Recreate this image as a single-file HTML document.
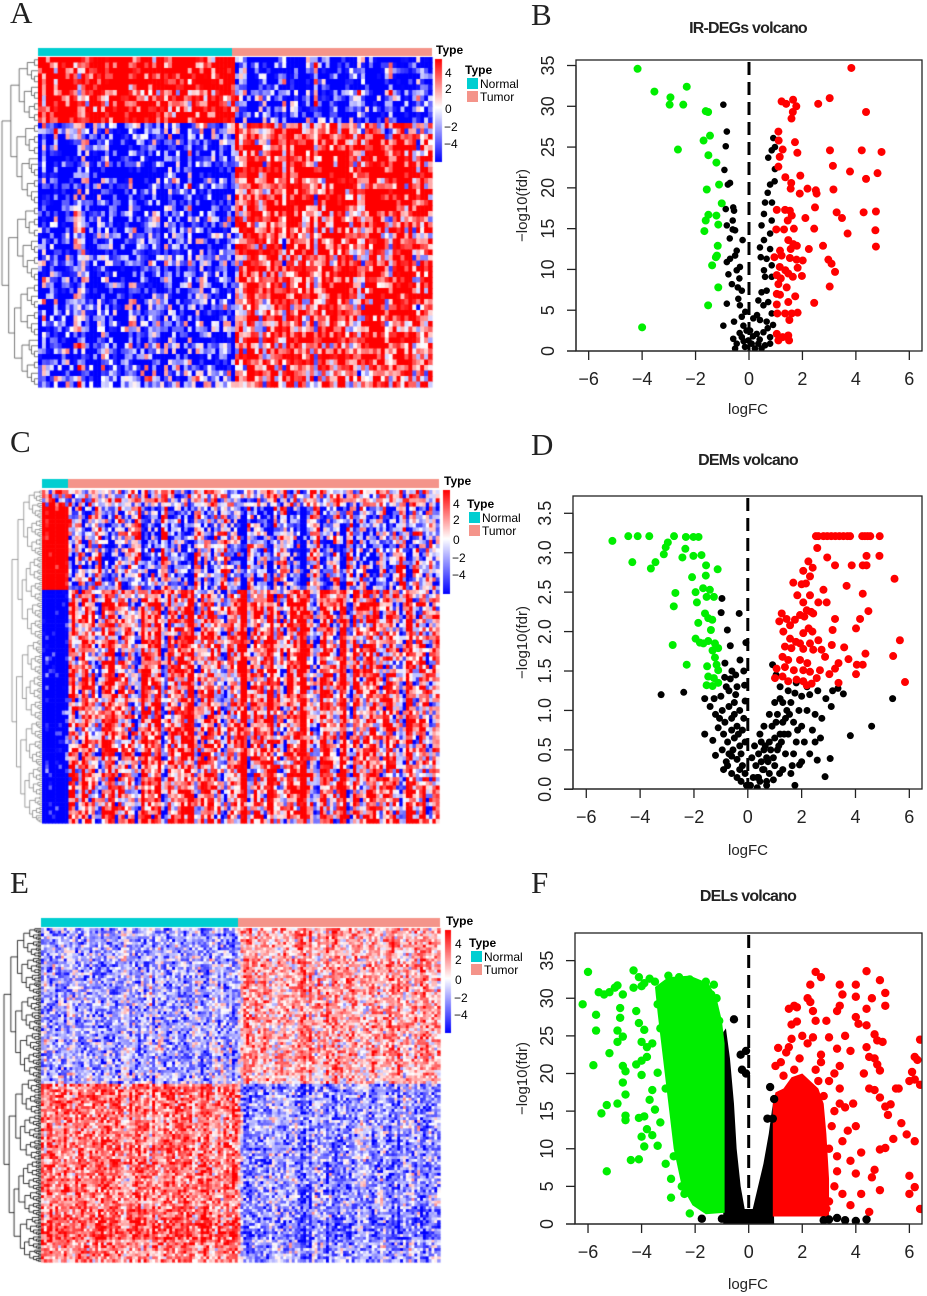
<!DOCTYPE html>
<html><head><meta charset="utf-8">
<style>
html,body{margin:0;padding:0;background:#fff;}
#root{position:relative;width:927px;height:1296px;overflow:hidden;font-family:"Liberation Sans",sans-serif;}
canvas{position:absolute;left:0;top:0;}
svg{position:absolute;left:0;top:0;}
</style></head>
<body>
<div id="root">
<canvas id="hm" width="927" height="1296"></canvas>
<svg id="sv" width="927" height="1296" xmlns="http://www.w3.org/2000/svg">
<g font-family="Liberation Serif, serif" font-size="31" fill="#222">
<text x="10" y="23">A</text>
<text x="531" y="25">B</text>
<text x="10" y="452">C</text>
<text x="531" y="455">D</text>
<text x="10" y="893">E</text>
<text x="531" y="893">F</text>
</g>
<g id="legends" font-family="Liberation Sans, sans-serif"></g>
<g id="volc"></g>
</svg>
</div>
<script>
// ---------- Volcano data (logFC, -log10 fdr) ----------
const bBlackX=[-0.96,-0.83,-0.87,-0.92,-0.71,-0.79,-0.59,-0.56,-0.87,-0.61,-0.83,-0.52,-0.61,-0.72,-0.24,-0.46,-0.52,-0.83,-0.71,-0.34,-0.46,-0.77,-0.36,-0.64,-0.42,-0.27,-0.40,-0.34,-0.83,-0.14,-0.27,-0.56,-0.96,-0.21,-0.09,-0.59,-0.46,-0.52,-0.27,-0.15,-0.35,-0.2,0.91,0.97,0.85,0.72,0.97,0.96,0.79,0.70,0.86,0.60,0.56,0.85,0.47,0.79,0.56,0.41,0.79,0.44,0.66,0.85,0.56,0.60,0.85,0.66,0.47,0.35,0.72,0.54,0.30,0.85,0.16,0.41,0.66,0.04,0.29,0.54,0.79,0.10,0.35,0.60,0.79,0.22,0.47,-0.02,0.15,0.4,0.7,0.9];
const bBlackY=[30.2,26.9,25.1,22.2,20.6,20.4,17.6,17.2,17.4,16.0,15.4,14.8,14.9,13.8,13.6,12.3,11.7,10.9,11.3,10.3,9.9,9.4,8.9,8.2,7.8,7.4,6.4,5.6,5.8,4.8,4.2,3.6,3.1,3.1,2.5,1.5,0.9,0.3,1.7,0.5,2.2,1.2,26.1,25.0,24.6,23.7,22.3,20.8,20.4,19.4,18.2,18.2,16.8,16.0,15.4,14.4,13.6,12.7,12.5,11.5,11.3,10.5,9.9,9.1,9.1,7.4,7.2,6.2,6.0,5.6,4.4,4.6,4.0,3.8,3.6,2.5,2.1,2.3,1.7,0.9,0.9,0.7,0.9,0.3,0.3,1.3,1.8,1.4,2.8,3.2];
const bGreenX=[-4.17,-3.54,-2.94,-2.97,-2.33,-2.46,-1.62,-1.53,-1.46,-1.70,-2.66,-1.52,-1.22,-1.12,-1.58,-1.02,-1.52,-1.22,-1.62,-1.15,-1.67,-1.17,-1.20,-1.24,-1.38,-1.15,-1.53,-4.0];
const bGreenY=[34.6,31.8,31.1,30.2,32.4,30.2,29.4,29.3,26.4,25.8,24.7,24.0,23.1,20.4,19.8,18.1,16.7,16.6,16.0,15.5,14.7,12.9,11.7,11.5,10.5,7.8,5.6,2.9];
const bRedX=[3.83,3.02,2.59,1.22,1.39,1.65,1.77,1.64,1.59,4.38,1.10,1.11,1.72,1.26,1.81,1.15,3.03,4.22,4.96,3.14,1.10,3.78,4.81,4.38,1.36,1.92,1.58,2.19,2.50,2.53,1.90,1.56,3.16,1.04,1.35,1.53,1.60,1.45,2.47,2.11,3.28,3.48,4.29,4.75,4.73,3.69,2.44,1.68,1.02,1.31,1.47,1.66,1.79,2.77,2.24,4.75,1.16,1.56,0.95,1.22,1.53,1.78,2.01,2.97,3.09,3.22,1.15,1.36,1.82,1.98,1.04,1.19,1.47,1.64,3.02,1.10,1.41,1.04,1.16,1.73,1.47,2.44,1.04,1.06,1.35,1.60,1.82,1.51,1.04,1.26,1.47,1.50,1.10];
const bRedY=[34.7,31.0,30.3,30.6,30.3,30.8,30.0,29.3,28.5,29.3,26.9,25.8,25.6,24.7,24.3,23.8,24.6,24.6,24.4,22.7,22.6,22.0,21.8,21.1,21.3,21.5,20.6,19.9,19.7,19.3,19.3,19.9,19.8,17.3,17.3,17.2,16.6,16.0,17.6,16.3,17.0,16.3,17.0,17.1,14.8,14.4,15.0,15.0,14.9,14.9,13.6,13.1,12.9,12.9,12.5,12.8,12.3,12.5,11.5,11.7,11.4,11.2,11.1,11.2,10.7,9.7,10.3,9.9,10.2,9.2,9.3,8.9,9.5,9.1,7.9,8.2,7.8,7.0,6.9,6.7,6.0,5.9,5.7,4.6,4.6,4.6,4.7,3.8,2.1,1.7,1.9,1.3,1.3];

const dBlackX=[-3.22,-2.38,-0.96,-0.99,-0.32,-0.76,-0.07,-0.65,-0.29,-0.59,-0.15,-0.86,-0.45,-0.80,-1.60,-1.25,-1.00,-0.70,-0.40,-0.12,-1.4,-1.2,-0.95,-0.7,-0.5,-0.3,-0.1,-1.6,-1.3,-1.1,-0.85,-0.6,-0.4,-0.2,-1.2,-0.95,-0.75,-0.5,-0.3,-0.1,-0.8,-0.6,-0.4,-0.2,-0.6,-0.4,-0.25,-0.1,-0.05,-0.3,-0.7,-0.9,-1.05,-0.5,0.92,1.05,1.2,1.5,1.75,2.0,2.3,2.6,2.9,3.15,3.55,5.38,1.0,1.3,1.6,1.9,2.2,2.5,2.75,3.1,0.8,1.1,1.4,1.7,2.0,2.4,2.7,0.6,0.9,1.2,1.5,1.8,2.1,2.5,0.5,0.8,1.1,1.4,1.7,2.0,0.4,0.7,1.0,1.3,0.3,0.55,0.8,0.2,0.45,0.7,0.1,0.35,3.81,4.6,2.58,3.06,2.87,1.92,1.75,1.18,0.95,0.6,1.6,2.3,1.0,1.3,0.4,0.15,1.8,2.2,3.35,-0.85,-0.65,-0.45,-0.35,-0.55,-0.75,-0.25,-0.15,-0.9,-0.6,0.25,0.5,0.65,0.85,1.05,1.25,1.45,0.35,0.6,0.75,0.95,1.15,1.35,1.55,1.2,1.65,1.85,0.7,0.45];
const dBlackY=[1.20,1.23,2.42,2.24,2.23,2.02,1.86,1.82,1.64,1.50,1.50,1.42,1.45,1.30,1.15,1.15,1.18,1.25,1.30,1.32,1.05,0.95,1.0,1.05,1.1,1.0,1.12,0.7,0.62,0.78,0.85,0.9,0.8,0.75,0.43,0.5,0.6,0.65,0.55,0.6,0.35,0.42,0.38,0.3,0.2,0.15,0.1,0.2,0.05,0.25,0.45,0.7,0.9,0.95,1.58,1.45,1.3,1.25,1.22,1.18,1.20,1.25,1.15,1.25,1.21,1.15,1.1,1.1,1.1,1.0,1.0,0.95,0.9,1.05,0.95,0.95,0.9,0.85,0.8,0.75,0.65,0.8,0.8,0.7,0.7,0.6,0.6,0.6,0.6,0.6,0.5,0.45,0.45,0.35,0.45,0.4,0.3,0.25,0.3,0.25,0.2,0.15,0.1,0.05,0.05,0.02,0.68,0.80,0.37,0.39,0.16,0.31,0.05,0.2,0.12,0.5,0.2,0.45,0.65,0.85,0.15,0.4,1.35,1.3,1.28,1.6,1.4,1.2,0.7,0.5,0.3,0.45,0.9,0.25,0.75,0.55,0.35,0.55,0.5,0.85,0.6,1.0,0.15,0.25,0.35,0.4,0.55,0.7,0.95,1.15,0.3,0.75,0.1,0.7];
const dGreenX=[-5.03,-4.44,-4.09,-3.66,-4.29,-3.60,-3.43,-3.12,-3.05,-2.97,-2.74,-2.30,-2.02,-1.83,-2.32,-2.43,-2.02,-1.72,-1.55,-1.12,-2.07,-1.56,-2.69,-2.75,-1.94,-1.66,-1.41,-1.53,-1.26,-1.89,-1.59,-1.47,-1.32,-1.84,-1.37,-2.79,-1.94,-1.78,-1.47,-1.22,-1.10,-1.31,-1.65,-2.27,-1.51,-1.16,-1.10,-1.47,-1.26,-1.53,-1.31,-1.10,-1.22];
const dGreenY=[3.15,3.21,3.21,3.21,2.88,2.80,2.88,2.98,3.07,3.13,3.21,3.20,3.20,3.20,3.05,2.94,2.96,2.97,2.84,2.79,2.69,2.71,2.49,2.32,2.50,2.55,2.53,2.44,2.44,2.37,2.23,2.17,2.15,2.11,2.02,1.83,1.91,1.86,1.88,1.85,1.79,1.76,1.85,1.58,1.56,1.58,1.51,1.43,1.41,1.32,1.31,1.35,1.67];
const dRedX=[2.53,2.62,2.81,2.95,3.1,3.25,3.4,3.55,3.7,3.8,4.25,4.35,4.45,4.55,4.9,2.58,2.95,3.24,3.86,4.27,4.41,4.41,4.89,5.45,3.67,4.27,4.48,4.17,4.02,5.65,5.40,5.84,4.37,4.05,4.27,4.02,3.74,3.58,3.37,3.24,3.03,3.37,3.24,3.15,3.12,2.87,2.81,2.93,2.25,2.41,2.06,2.31,1.69,2.16,2.0,1.84,2.31,2.06,2.62,2.19,2.35,2.43,1.94,2.1,1.26,1.17,1.44,1.75,1.57,2.26,2.4,1.32,2.06,2.62,1.57,1.79,1.94,1.38,1.62,2.31,2.06,2.43,2.74,1.29,1.50,1.94,2.21,1.07,1.38,1.71,2.06,2.31,2.68,1.01,1.29,1.50,1.81,2.06,2.37,2.56,2.19];
const dRedY=[3.21,3.21,3.21,3.21,3.21,3.21,3.21,3.21,3.21,3.21,3.21,3.21,3.21,3.21,3.21,3.06,2.94,2.84,2.84,2.84,2.84,2.96,2.96,2.67,2.58,2.48,2.26,2.16,2.04,1.89,1.69,1.36,1.72,1.58,1.58,1.46,1.65,1.80,1.60,1.53,1.46,1.35,2.16,2.02,1.83,1.68,2.53,2.37,2.89,2.81,2.77,2.70,2.62,2.61,2.60,2.46,2.46,2.37,2.37,2.27,2.25,2.23,2.21,2.19,2.23,2.13,2.16,2.15,2.08,2.04,2.0,2.00,1.98,1.89,1.91,1.87,1.85,1.81,1.79,1.85,1.78,1.77,1.77,1.68,1.64,1.64,1.60,1.53,1.55,1.51,1.51,1.49,1.51,1.41,1.43,1.37,1.39,1.37,1.34,1.41,1.32];

// F: dense cores as envelopes (data units) + scattered points
const fGreenCoreX=[-0.9,-0.9,-1.0,-1.2,-1.5,-2.2,-3.0,-3.5,-3.4,-3.2,-3.0,-2.8,-2.5,-2.1,-1.6];
const fGreenCoreY=[1.5,24,27,30,32,33,32.8,31.5,28,22,16,10,5,2.5,1.3];
const fBlackCoreX=[-0.95,-0.95,-0.85,-0.7,-0.55,-0.45,-0.3,-0.15,0.15,0.35,0.55,0.75,0.9,0.95];
const fBlackCoreY=[0,25.5,26,22,16,10,5,2,2,5,8,12,16,0];
const fRedCoreX=[0.9,0.9,1.0,1.3,1.6,2.0,2.3,2.6,2.8,2.9,3.0,3.0];
const fRedCoreY=[1,16,17.5,18,19.5,20,19,18,16,12,6,1];
const fBlackX=[-0.55,-0.3,-0.1,-0.1,-0.25,0.8,0.95,-1.75,-1.0,0.9,0.7,3.3,3.6,4.4,4.0,2.8,3.0];
const fBlackY=[27.2,22.5,23,20,20.5,18.2,16.6,0.7,0.7,14,14,0.8,0.5,0.6,0.4,0.5,0.6];
const fGreenX=[-6.2,-6.0,-5.7,-5.7,-5.8,-5.6,-5.4,-5.2,-5.5,-5.3,-5.3,-5.2,-5.0,-4.9,-4.7,-4.8,-4.8,-4.9,-4.7,-4.9,-4.7,-4.6,-4.7,-4.6,-4.9,-4.6,-4.6,-4.4,-4.1,-4.3,-4.1,-4.3,-4.0,-4.1,-4.2,-3.9,-4.0,-3.8,-4.0,-4.2,-3.8,-4.0,-4.1,-3.9,-4.0,-3.9,-3.8,-3.6,-3.7,-3.5,-3.6,-3.4,-3.3,-3.4,-3.6,-3.4,-3.5,-3.7,-3.9,-3.1,-2.9,-2.9,-2.2,-2.5,-2.0,-3.0,-2.6,-2.2,-1.6,-1.3,-1.4,-1.2,-1.3,-1.1,-3.3,-3.1,-2.8,-2.4];
const fGreenY=[29.2,33.5,27.8,25.7,21.1,30.8,30.5,22.7,14.7,15.8,7.0,30.8,31.4,31.7,30.5,28.7,27.4,25.7,24.9,24.2,21.0,20.3,18.8,17.2,16.0,14.4,13.8,8.5,8.6,33.7,32.8,31.4,31.6,26.7,28.3,25.8,24.2,23.5,21.7,21.2,22.2,19.8,14.1,14.3,11.6,10.3,12.6,17.8,16.5,15.2,11.8,10.4,13.5,20.1,24.0,29.2,32.2,32.6,32.0,8.0,6.0,3.5,1.4,5,3.5,33,32.8,32.5,32.2,31.8,30.5,30,28,27,26,18,9,4];
const fRedX=[2.5,2.7,2.3,2.3,2.2,1.7,1.5,1.8,2.5,2.9,3.4,3.5,3.4,3.3,4.0,4.0,4.4,4.4,4.6,4.9,5.1,5.1,4.0,4.1,4.4,4.7,4.8,5.0,4.4,4.5,4.7,4.8,4.3,4.9,4.5,4.7,4.9,5.1,5.3,5.2,5.5,5.6,5.7,5.4,5.1,4.9,5.9,6.2,6.0,6.1,6.2,6.2,6.3,6.4,6.4,6.0,6.0,6.2,6.4,4.9,4.6,4.7,4.5,4.2,4.0,3.8,3.5,3.7,4.0,3.6,3.9,3.4,3.4,3.3,3.8,3.6,3.0,3.2,3.0,2.5,2.8,3.2,3.0,3.3,3.0,3.5,3.8,4.2,2.7,2.2,1.9,1.6,1.4,1.1,1.0,1.3,1.7,2.0,2.4,1.6,1.8,2.4,2.7,2.6,3.1,3.3,3.2,2.9,3.4,1.2,1.5];
const fRedY=[33.5,32.8,31.8,29.5,30,29,28.6,26.9,27,27,31.8,30.5,29,28.3,31.8,30.2,33.6,28.6,30,32.4,30.7,29,27.5,26.6,26.4,25.2,24.4,24.2,23.5,22.2,22,21.2,20,20.4,18,17.8,16.8,15.6,15.9,14.5,18,18,13.4,11.3,10.1,9.9,11.9,11.0,19,20.2,19.2,22.2,21.8,24.5,18.5,6.4,4.0,4.9,2,4.5,6.2,7.2,1.6,4,6.7,8.4,11,12.4,13,15.5,16,18,21,23.3,23,25,24.8,20,19,20.5,17,15,10,7,3,4,2.5,9.5,22.5,24,22,24.6,22.8,23.4,21,19.7,20.5,25,24.8,26.5,28.8,28.3,21.5,19,13,9,5,2,16,21.5,23.5];

// ---------- Heatmap data (row/column profiles + texture) ----------
const tex1=[0.8,-0.6,0.3,-0.9,0.5,0.1,-0.4,0.9,-0.2,0.6,-0.8,0.2,-0.5,0.7,-0.1,0.4,-0.7,0.95,-0.3,0.0,0.6,-0.9,0.35,-0.45,0.75,-0.15,0.5,-0.65,0.25,-0.85,0.55];
const tex2=[-0.5,0.7,-0.2,0.9,-0.8,0.3,0.1,-0.6,0.5,-0.3,0.8,-0.9,0.2,0.6,-0.4,0.0,-0.7,0.4,0.9,-0.1,-0.55,0.65,-0.35,0.15,0.85,-0.75,0.45,-0.25,0.05];
const aCols=[1.2,0.9,1.4,1.0,0.7,1.3,1.1,0.8,1.5,1.0,0.9,1.2,1.3,0.6,1.1,1.0,1.4,0.8,1.2,1.0,-1.0,-1.3,-0.8,-1.1,-0.6,-1.2,-1.4,-0.9,-0.5,-1.2,-1.6,-0.7,-1.0,-1.3,-1.5,-0.8,-1.1,-1.4,-0.9,-1.2];
const aRows=[2.2,2.0,2.4,1.2,1.6,2.1,-0.8,-1.5,-1.8,-1.6,-2.6,-1.4,-1.9,-2.0,-1.2,-1.5,-1.3,-1.7,-1.1,-1.6,-1.4,-1.8,-1.2,-1.5,-1.0,-1.7,-1.3,-1.6,-1.2,-1.0];
const cCols=[1.4,1.4,1.4,1.4,-0.5,0.2,-0.8,-0.3,0.4,-0.6,-1.0,0.1,-0.4,-0.2,0.5,-0.7,-0.3,-0.9,0.3,-0.5,-0.1,-0.6,-1.1,0.2,-0.4,-0.8,-0.2,0.4,-0.5,-0.3,-1.0,0.1,-0.6,-0.4,-0.9,-0.2,0.3,-0.7,-0.5,-1.2,-0.3,0.2,-0.6,-0.4,-0.1,-0.8,0.3,-0.5,-0.2,-0.7,-0.4,0.1,-0.6,-0.3,0.4,-0.9,-0.2,-0.5,0.2,-0.4];
const cRows=[0.3,0.3,2.6,2.4,2.8,2.2,2.6,2.5,2.9,2.3,2.7,2.4,-2.2,-2.6,-2.4,-2.8,-2.1,-2.5,-2.7,-2.3,-2.6,-2.2,-2.5,-2.9,-2.4,-2.6,-2.2,-2.8,-2.5,-2.3,-2.6,-2.7,-2.4,-2.2,-2.6,-2.5,-2.8,-2.3,-2.6,-2.4];
const eCols=[1.0,0.8,1.2,0.9,1.1,0.7,1.3,1.0,0.9,1.2,0.8,1.1,1.0,1.3,0.9,0.8,1.2,1.0,0.9,1.1,-1.0,-1.2,-0.9,-1.1,-0.8,-1.0,-1.3,-0.9,-1.1,-1.0,-1.2,-0.8,-1.0,-1.1,-0.9,-1.2,-1.0,-0.9,-1.1,-1.0];
const eRows=[-1.0,-1.1,-0.9,-1.2,-1.0,-1.1,-0.9,-1.0,-1.2,-1.0,-0.9,-1.1,-1.0,-0.8,1.6,1.4,1.5,1.3,1.4,1.6,1.3,1.5,1.4,1.6,1.3,1.5,1.8,2.0,1.4,1.3];
</script>
<script>
const NS='http://www.w3.org/2000/svg';
const sv=document.getElementById('sv');
function mk(tag,attrs,parent){const e=document.createElementNS(NS,tag);for(const k in attrs)e.setAttribute(k,attrs[k]);(parent||sv).appendChild(e);return e;}

// ---------- heatmaps ----------
const ctx=document.getElementById('hm').getContext('2d');
function col(v,sat){let t=Math.max(-1,Math.min(1,v/sat));
 if(t>=0){const g=Math.round(255*(1-t));return 'rgb(255,'+g+','+g+')';}
 const g=Math.round(255*(1+t));return 'rgb('+g+','+g+',255)';}
function heat(rows,cols,L,T,R,B,nr,nc,sat,texAmp,colAmp){
 const cw=(R-L)/nc,rh=(B-T)/nr;
 for(let r=0;r<nr;r++){const rs=rows[Math.floor(r*rows.length/nr)];
  for(let c=0;c<nc;c++){const cs=cols[Math.floor(c*cols.length/nc)];
   const i1=(r*17+c*5+((r*c)%11)*3)%31, i2=(c*19+r*3+((r+c*c)%7)*4)%29;
   const colStreak=colAmp*tex1[(c*c*3+c*7)%31];
   const v=rs*cs+texAmp*(tex1[i1]+tex2[i2])+colStreak*Math.sign(rs);
   ctx.fillStyle=col(v,sat);
   ctx.fillRect(L+c*cw,T+r*rh,cw+0.6,rh+0.6);}}
}
function dendro(L,R,T,B,n,color){
 ctx.strokeStyle=color;ctx.lineWidth=0.8;
 const rh=(B-T)/n,W=R-L,ln=Math.log2(n);
 function rec(lo,hi){ if(hi-lo===1)return {x:R,y:T+(lo+0.5)*rh};
  const m=lo+Math.max(1,Math.floor((hi-lo)*((lo%3===0)?0.45:0.55)));
  const a=rec(lo,m),b=rec(m,hi);
  const x=R-W*Math.pow(Math.log2(hi-lo)/ln,1.3);
  ctx.beginPath();ctx.moveTo(a.x,a.y);ctx.lineTo(x,a.y);ctx.lineTo(x,b.y);ctx.lineTo(b.x,b.y);ctx.stroke();
  return {x:x,y:(a.y+b.y)/2};}
 rec(0,n);
}
function annot(L,R,T,B,split){ctx.fillStyle='#00ced1';ctx.fillRect(L,T,split-L,B-T);ctx.fillStyle='#f4948a';ctx.fillRect(split,T,R-split,B-T);}
function cbar(x,y,w,h){const g=ctx.createLinearGradient(0,y,0,y+h);g.addColorStop(0,'#ff0000');g.addColorStop(0.47,'#ffffff');g.addColorStop(1,'#0000ff');ctx.fillStyle=g;ctx.fillRect(x,y,w,h);}

annot(38,432,48,56,232); heat(aRows,aCols,38,57,432,387,60,100,2.0,1.5,0.8); dendro(2,38,57,387,60,'#555'); cbar(435,59,7,103);
annot(42,439,479,488,68); heat(cRows,cCols,42,490,439,823,80,120,2.0,1.5,0.6); dendro(12,42,490,823,160,'#888'); cbar(443,490,7,104);
annot(41,440,918,927,238); heat(eRows,eCols,41,928,440,1262,120,140,3.2,1.3,0.7); dendro(4,41,928,1262,240,'#000'); cbar(445,930,6,103);

// legends
const lg=document.getElementById('legends');
function legend(id,cx,cTop,tx,ty){
 const g=mk('g',{},lg);
 
 
 mk('text',{x:cx+1,y:cTop-5,'font-size':'12','font-weight':'bold'},g).textContent='Type';
 const labs=['4','2','0','\u22122','\u22124'],offs=[13,29,49,67,84];
 labs.forEach((l,i)=>{mk('text',{x:cx+(i>2?9:10),y:cTop+offs[i]+5,'font-size':'12'},g).textContent=l;});
 mk('text',{x:tx,y:ty,'font-size':'12','font-weight':'bold'},g).textContent='Type';
 mk('rect',{x:tx+2,y:ty+4,width:11,height:11,fill:'#00ced1'},g);
 mk('text',{x:tx+15,y:ty+14,'font-size':'12'},g).textContent='Normal';
 mk('rect',{x:tx+2,y:ty+17,width:11,height:11,fill:'#f4948a'},g);
 mk('text',{x:tx+15,y:ty+27,'font-size':'12'},g).textContent='Tumor';
}
legend('a',435,59,465,74);
legend('c',443,490,467,508);
legend('e',445,930,469,947);

// ---------- volcanoes ----------
const vg=document.getElementById('volc');
function volcano(cfg){
 const g=mk('g',{},vg);
 
 
 const X=v=>cfg.x0+v*cfg.sx, Y=v=>cfg.y0-v*cfg.sy;
 const cid='clip-'+cfg.id;
 const cp=mk('clipPath',{id:cid},g); mk('rect',{x:cfg.l,y:cfg.t,width:cfg.r-cfg.l,height:cfg.b-cfg.t},cp);
 const pts=mk('g',{'clip-path':'url(#'+cid+')'},g);
 (cfg.cores||[]).forEach(c=>{
  const p=mk('polygon',{points:c.xs.map((v,i)=>X(v)+','+Y(c.ys[i])).join(' '),fill:c.color},pts);
  
  
 });
 cfg.series.forEach(s=>{
  s.xs.forEach((v,i)=>{const c=mk('circle',{cx:X(v),cy:Y(s.ys[i]),r:s.r,fill:s.color},pts);
   
   });
 });
 mk('line',{x1:X(0),x2:X(0),y1:cfg.t+2,y2:cfg.b,stroke:'#000','stroke-width':'3','stroke-dasharray':'13,7'},g);
 mk('rect',{x:cfg.l,y:cfg.t,width:cfg.r-cfg.l,height:cfg.b-cfg.t,fill:'none',stroke:'#222','stroke-width':'1.3'},g);
 const xa=mk('g',{},g);
 
 
 mk('line',{x1:cfg.l-9,x2:X(6),y1:cfg.b,y2:cfg.b,stroke:'#222','stroke-width':'1.3'},xa);
 [-6,-4,-2,0,2,4,6].forEach(v=>{mk('line',{x1:X(v),x2:X(v),y1:cfg.b,y2:cfg.b+9,stroke:'#222','stroke-width':'1.3'},xa);
  mk('text',{x:X(v),y:cfg.b+34,'text-anchor':'middle','font-size':'18',fill:'#222'},xa).textContent=v<0?'\u2212'+(-v):String(v);});
 const ya=mk('g',{},g);
 
 
 const yt=cfg.yticks;
 mk('line',{x1:cfg.l,x2:cfg.l,y1:Y(yt[0]),y2:Y(yt[yt.length-1]),stroke:'#222','stroke-width':'1.3'},ya);
 yt.forEach(v=>{mk('line',{x1:cfg.l-9,x2:cfg.l,y1:Y(v),y2:Y(v),stroke:'#222','stroke-width':'1.3'},ya);
  mk('text',{x:0,y:0,transform:'translate('+(cfg.l-22)+','+Y(v)+') rotate(-90)','text-anchor':'middle','font-size':'18',fill:'#222'},ya).textContent=cfg.fmt(v);});
 const t=mk('text',{x:748,y:cfg.titleY,'text-anchor':'middle','font-size':'16','font-weight':'bold','letter-spacing':'-0.8',fill:'#222'},g);
  t.textContent=cfg.title;
 const xl=mk('text',{x:748,y:cfg.xlabY,'text-anchor':'middle','font-size':'15',fill:'#222'},g);
  xl.textContent='logFC';
 const yl=mk('text',{x:0,y:0,transform:'translate(527,'+((cfg.t+cfg.b)/2)+') rotate(-90)','text-anchor':'middle','font-size':'15',fill:'#222'},g);
  yl.textContent='\u2212log10(fdr)';
}
const int0=v=>String(v);
volcano({id:'volcano-b',l:576,t:60,r:922,b:351,x0:749,sx:26.72,y0:351,sy:8.157,yticks:[0,5,10,15,20,25,30,35],fmt:int0,title:'IR-DEGs volcano',titleY:33,xlabY:414,
 series:[{xs:bBlackX,ys:bBlackY,color:'#000',r:3.3},{xs:bGreenX,ys:bGreenY,color:'#00ee00',r:4},{xs:bRedX,ys:bRedY,color:'#ff0000',r:4}]});
volcano({id:'volcano-d',l:573,t:496,r:922,b:789,x0:747.8,sx:26.92,y0:789.3,sy:78.86,yticks:[0,0.5,1,1.5,2,2.5,3,3.5],fmt:v=>v.toFixed(1),title:'DEMs volcano',titleY:465,xlabY:855,
 series:[{xs:dBlackX,ys:dBlackY,color:'#000',r:3.5},{xs:dGreenX,ys:dGreenY,color:'#00ee00',r:4},{xs:dRedX,ys:dRedY,color:'#ff0000',r:4}]});
volcano({id:'volcano-f',l:575,t:933,r:922,b:1224,x0:748.7,sx:26.78,y0:1224,sy:7.525,yticks:[0,5,10,15,20,25,30,35],fmt:int0,title:'DELs volcano',titleY:901,xlabY:1289,
 cores:[{xs:fBlackCoreX,ys:fBlackCoreY,color:'#000'},{xs:fGreenCoreX,ys:fGreenCoreY,color:'#00ee00'},{xs:fRedCoreX,ys:fRedCoreY,color:'#ff0000'}],
 series:[{xs:fBlackX,ys:fBlackY,color:'#000',r:4.2},{xs:fGreenX,ys:fGreenY,color:'#00ee00',r:4.2},{xs:fRedX,ys:fRedY,color:'#ff0000',r:4.2}]});
</script>
</body></html>
